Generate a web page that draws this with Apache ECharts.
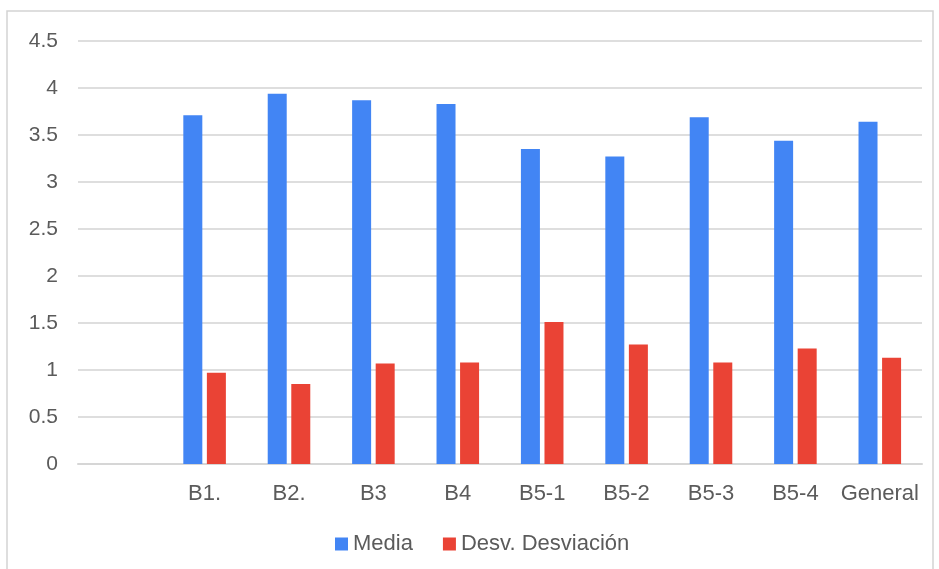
<!DOCTYPE html>
<html>
<head>
<meta charset="utf-8">
<script src="https://cdn.jsdelivr.net/npm/echarts@6/dist/echarts.min.js"></script>
<style>
  html, body { margin: 0; padding: 0; background: #ffffff; }
  #chart { width: 939px; height: 569px; }
</style>
</head>
<body>
<div id="chart"></div>
<script>
// Category labels (the first slot is an empty row in the source sheet)
const categories = ['', 'B1.', 'B2.', 'B3', 'B4', 'B5-1', 'B5-2', 'B5-3', 'B5-4', 'General'];

// Mean score per block
const media = [null, 3.71, 3.94, 3.87, 3.83, 3.35, 3.27, 3.69, 3.44, 3.64];

// Standard deviation per block
const desviacion = [null, 0.97, 0.85, 1.07, 1.08, 1.51, 1.27, 1.08, 1.23, 1.13];

const seriesNames = ['Media', 'Desv. Desviación'];

const FONT = '"Liberation Sans", Arial, sans-serif';
const TEXT = '#5b5b5b';

const chart = echarts.init(document.getElementById('chart'), null, { renderer: 'canvas' });

chart.setOption({
  backgroundColor: '#ffffff',
  animation: false,
  graphic: [{
    type: 'rect',
    shape: { x: 7, y: 11, width: 926, height: 562 },
    style: { fill: 'none', stroke: '#d3d3d3', lineWidth: 1.5 },
    silent: true
  }],
  grid: { left: 78, right: 17, top: 41, bottom: 105, containLabel: false },
  legend: {
    data: seriesNames,
    bottom: 9,
    left: 330,
    icon: 'rect',
    itemWidth: 13,
    itemHeight: 13,
    itemGap: 30,
    textStyle: { color: TEXT, fontFamily: FONT, fontSize: 22 }
  },
  xAxis: {
    type: 'category',
    data: categories,
    axisLine: { show: true, lineStyle: { color: '#d6d6d6', width: 2 } },
    axisTick: { show: false },
    axisLabel: { color: TEXT, fontFamily: FONT, fontSize: 22, margin: 19, interval: 0 }
  },
  yAxis: {
    type: 'value',
    min: 0,
    max: 4.5,
    interval: 0.5,
    axisLine: { show: false },
    axisTick: { show: false },
    axisLabel: { color: TEXT, fontFamily: FONT, fontSize: 21, margin: 20 },
    splitLine: { lineStyle: { color: '#dedede', width: 2 } }
  },
  series: [
    {
      name: seriesNames[0],
      type: 'bar',
      data: media,
      barWidth: 19,
      barGap: '24%',
      itemStyle: { color: '#4285f4' }
    },
    {
      name: seriesNames[1],
      type: 'bar',
      data: desviacion,
      barWidth: 19,
      itemStyle: { color: '#ea4335' }
    }
  ]
});
</script>
</body>
</html>
